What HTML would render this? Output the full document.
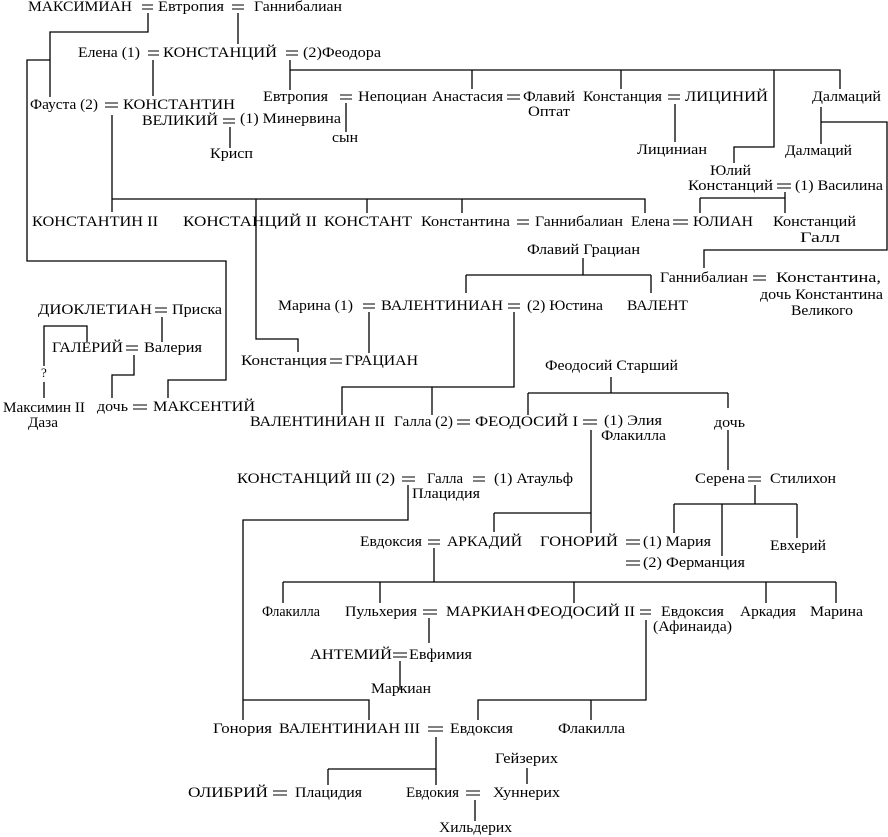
<!DOCTYPE html>
<html><head><meta charset="utf-8"><style>
html,body{margin:0;padding:0;background:#fff;}
svg{display:block;}
text{font-family:"Liberation Serif","DejaVu Serif",serif;font-size:15px;fill:#000;}
</style></head><body>
<svg width="888" height="837" viewBox="0 0 888 837" xmlns="http://www.w3.org/2000/svg">
<rect width="888" height="837" fill="#fff"/>
<g fill="none" stroke="#000" stroke-width="1.3">
<path d="M148 13V32H50V97M50 60H27V261H226V380H168V398M238 13V44M153 60V96M290 60V90M290 70H840V89M472 70V89M621 70V89M774 70V147H734V163M346 103V132M230 127V148M675 104V142M821 107V144M821 122H887V250H704V268"/>
<path d="M112 115V212M112 199H645V213M256 199V339H298V352M367 199V213M462 199V213M785 192V213M700 198H785M700 198V213"/>
<path d="M583 258V275M466 275H651M466 275V293M651 275V293M369 312V353M514 312V387H342V415M432 387V415"/>
<path d="M162 317V342M87 342V326H44V366M44 382V398M134 355V375H112V398"/>
<path d="M611 377V393M528 393H728M528 393V415M728 393V408M728 430V470M591 430V533M494 513H591M494 513V532"/>
<path d="M408 485V520H243V720M243 700H369V720M755 485V504M674 504H797M674 504V533M722 504V556M797 504V538"/>
<path d="M434 548V582M283 582H836M283 582V603M380 582V603M574 582V603M766 582V603M836 582V603"/>
<path d="M429 618V643M400 661V690M646 620V700H478V720M591 700V720M436 737V785M328 769H436M328 769V785M527 768V784M475 800V821"/>
</g>
<g fill="none" stroke="#000" stroke-width="1.1">
<path d="M142 5H153M142 9H153M232 5H244M232 9H244M148 51H159M148 55H159M286 51H298M286 55H298M105 103H118M105 107H118M223 119H235M223 123H235M340 95H352M340 99H352M507 95H520M507 99H520M668 95H680M668 99H680M777 184H791M777 188H791"/>
<path d="M517 220H529M517 224H529M673 220H688M673 224H688M753 276H766M753 280H766M363 304H375M363 308H375M508 304H520M508 308H520M330 359H342M330 363H342M155 308H167M155 312H167M126 346H138M126 350H138M133 405H147M133 409H147"/>
<path d="M457 420H470M457 424H470M583 420H597M583 424H597M402 477H415M402 481H415M473 477H485M473 481H485M428 540H440M428 544H440M626 540H640M626 544H640M626 561H640M626 565H640M748 477H761M748 481H761"/>
<path d="M423 610H437M423 614H437M640 610H651M640 614H651M393 653H407M393 657H407M428 727H443M428 731H443M273 791H287M273 795H287M466 791H480M466 795H480"/>
</g>
<g>
<text x="28" y="11" textLength="104" lengthAdjust="spacingAndGlyphs">МАКСИМИАН</text>
<text x="158" y="11" textLength="66" lengthAdjust="spacingAndGlyphs">Евтропия</text>
<text x="254" y="11" textLength="88" lengthAdjust="spacingAndGlyphs">Ганнибалиан</text>
<text x="78" y="57" textLength="62" lengthAdjust="spacingAndGlyphs">Елена (1)</text>
<text x="163" y="57" textLength="114" lengthAdjust="spacingAndGlyphs">КОНСТАНЦИЙ</text>
<text x="303" y="57" textLength="78" lengthAdjust="spacingAndGlyphs">(2)Феодора</text>
<text x="30" y="109" textLength="68" lengthAdjust="spacingAndGlyphs">Фауста (2)</text>
<text x="123" y="109" textLength="112" lengthAdjust="spacingAndGlyphs">КОНСТАНТИН</text>
<text x="142" y="125" textLength="76" lengthAdjust="spacingAndGlyphs">ВЕЛИКИЙ</text>
<text x="240" y="123" textLength="101" lengthAdjust="spacingAndGlyphs">(1) Минервина</text>
<text x="210" y="158" textLength="43" lengthAdjust="spacingAndGlyphs">Крисп</text>
<text x="263" y="101" textLength="65" lengthAdjust="spacingAndGlyphs">Евтропия</text>
<text x="358" y="101" textLength="69" lengthAdjust="spacingAndGlyphs">Непоциан</text>
<text x="432" y="101" textLength="71" lengthAdjust="spacingAndGlyphs">Анастасия</text>
<text x="523" y="101" textLength="52" lengthAdjust="spacingAndGlyphs">Флавий</text>
<text x="528" y="116" textLength="42" lengthAdjust="spacingAndGlyphs">Оптат</text>
<text x="332" y="142" textLength="26" lengthAdjust="spacingAndGlyphs">сын</text>
<text x="583" y="101" textLength="79" lengthAdjust="spacingAndGlyphs">Констанция</text>
<text x="685" y="101" textLength="83" lengthAdjust="spacingAndGlyphs">ЛИЦИНИЙ</text>
<text x="637" y="154" textLength="70" lengthAdjust="spacingAndGlyphs">Лициниан</text>
<text x="812" y="101" textLength="69" lengthAdjust="spacingAndGlyphs">Далмаций</text>
<text x="785" y="155" textLength="67" lengthAdjust="spacingAndGlyphs">Далмаций</text>
<text x="710" y="175" textLength="41" lengthAdjust="spacingAndGlyphs">Юлий</text>
<text x="688" y="190" textLength="85" lengthAdjust="spacingAndGlyphs">Констанций</text>
<text x="795" y="190" textLength="88" lengthAdjust="spacingAndGlyphs">(1) Василина</text>
<text x="32" y="226" textLength="126" lengthAdjust="spacingAndGlyphs">КОНСТАНТИН II</text>
<text x="183" y="226" textLength="134" lengthAdjust="spacingAndGlyphs">КОНСТАНЦИЙ II</text>
<text x="324" y="226" textLength="88" lengthAdjust="spacingAndGlyphs">КОНСТАНТ</text>
<text x="421" y="226" textLength="89" lengthAdjust="spacingAndGlyphs">Константина</text>
<text x="535" y="226" textLength="88" lengthAdjust="spacingAndGlyphs">Ганнибалиан</text>
<text x="631" y="226" textLength="39" lengthAdjust="spacingAndGlyphs">Елена</text>
<text x="693" y="226" textLength="60" lengthAdjust="spacingAndGlyphs">ЮЛИАН</text>
<text x="773" y="226" textLength="83" lengthAdjust="spacingAndGlyphs">Констанций</text>
<text x="800" y="242" textLength="40" lengthAdjust="spacingAndGlyphs">Галл</text>
<text x="527" y="254" textLength="113" lengthAdjust="spacingAndGlyphs">Флавий Грациан</text>
<text x="660" y="282" textLength="88" lengthAdjust="spacingAndGlyphs">Ганнибалиан</text>
<text x="776" y="282" textLength="105" lengthAdjust="spacingAndGlyphs">Константина,</text>
<text x="760" y="299" textLength="123" lengthAdjust="spacingAndGlyphs">дочь Константина</text>
<text x="791" y="315" textLength="62" lengthAdjust="spacingAndGlyphs">Великого</text>
<text x="278" y="310" textLength="75" lengthAdjust="spacingAndGlyphs">Марина (1)</text>
<text x="381" y="310" textLength="122" lengthAdjust="spacingAndGlyphs">ВАЛЕНТИНИАН</text>
<text x="527" y="310" textLength="76" lengthAdjust="spacingAndGlyphs">(2) Юстина</text>
<text x="627" y="310" textLength="61" lengthAdjust="spacingAndGlyphs">ВАЛЕНТ</text>
<text x="38" y="314" textLength="114" lengthAdjust="spacingAndGlyphs">ДИОКЛЕТИАН</text>
<text x="172" y="314" textLength="50" lengthAdjust="spacingAndGlyphs">Приска</text>
<text x="52" y="352" textLength="71" lengthAdjust="spacingAndGlyphs">ГАЛЕРИЙ</text>
<text x="144" y="352" textLength="58" lengthAdjust="spacingAndGlyphs">Валерия</text>
<text x="41" y="377" style="font-size:13px">?</text>
<text x="241" y="365" textLength="86" lengthAdjust="spacingAndGlyphs">Констанция</text>
<text x="345" y="365" textLength="73" lengthAdjust="spacingAndGlyphs">ГРАЦИАН</text>
<text x="545" y="370" textLength="133" lengthAdjust="spacingAndGlyphs">Феодосий Старший</text>
<text x="3" y="412" textLength="82" lengthAdjust="spacingAndGlyphs">Максимин II</text>
<text x="28" y="427" textLength="30" lengthAdjust="spacingAndGlyphs">Даза</text>
<text x="97" y="411" textLength="31" lengthAdjust="spacingAndGlyphs">дочь</text>
<text x="153" y="411" textLength="102" lengthAdjust="spacingAndGlyphs">МАКСЕНТИЙ</text>
<text x="250" y="426" textLength="135" lengthAdjust="spacingAndGlyphs">ВАЛЕНТИНИАН II</text>
<text x="394" y="426" textLength="59" lengthAdjust="spacingAndGlyphs">Галла (2)</text>
<text x="475" y="426" textLength="103" lengthAdjust="spacingAndGlyphs">ФЕОДОСИЙ I</text>
<text x="604" y="425" textLength="58" lengthAdjust="spacingAndGlyphs">(1) Элия</text>
<text x="601" y="440" textLength="65" lengthAdjust="spacingAndGlyphs">Флакилла</text>
<text x="714" y="427" textLength="31" lengthAdjust="spacingAndGlyphs">дочь</text>
<text x="237" y="483" textLength="158" lengthAdjust="spacingAndGlyphs">КОНСТАНЦИЙ III (2)</text>
<text x="427" y="483" textLength="36" lengthAdjust="spacingAndGlyphs">Галла</text>
<text x="494" y="483" textLength="79" lengthAdjust="spacingAndGlyphs">(1) Атаульф</text>
<text x="412" y="498" textLength="68" lengthAdjust="spacingAndGlyphs">Плацидия</text>
<text x="695" y="483" textLength="50" lengthAdjust="spacingAndGlyphs">Серена</text>
<text x="770" y="483" textLength="66" lengthAdjust="spacingAndGlyphs">Стилихон</text>
<text x="360" y="546" textLength="62" lengthAdjust="spacingAndGlyphs">Евдоксия</text>
<text x="447" y="546" textLength="75" lengthAdjust="spacingAndGlyphs">АРКАДИЙ</text>
<text x="540" y="546" textLength="78" lengthAdjust="spacingAndGlyphs">ГОНОРИЙ</text>
<text x="643" y="546" textLength="68" lengthAdjust="spacingAndGlyphs">(1) Мария</text>
<text x="643" y="567" textLength="102" lengthAdjust="spacingAndGlyphs">(2) Ферманция</text>
<text x="770" y="550" textLength="56" lengthAdjust="spacingAndGlyphs">Евхерий</text>
<text x="262" y="616" textLength="58" lengthAdjust="spacingAndGlyphs">Флакилла</text>
<text x="345" y="616" textLength="72" lengthAdjust="spacingAndGlyphs">Пульхерия</text>
<text x="446" y="616" textLength="79" lengthAdjust="spacingAndGlyphs">МАРКИАН</text>
<text x="527" y="616" textLength="108" lengthAdjust="spacingAndGlyphs">ФЕОДОСИЙ II</text>
<text x="661" y="616" textLength="63" lengthAdjust="spacingAndGlyphs">Евдоксия</text>
<text x="653" y="631" textLength="79" lengthAdjust="spacingAndGlyphs">(Афинаида)</text>
<text x="740" y="616" textLength="56" lengthAdjust="spacingAndGlyphs">Аркадия</text>
<text x="810" y="616" textLength="53" lengthAdjust="spacingAndGlyphs">Марина</text>
<text x="310" y="659" textLength="82" lengthAdjust="spacingAndGlyphs">АНТЕМИЙ</text>
<text x="409" y="659" textLength="63" lengthAdjust="spacingAndGlyphs">Евфимия</text>
<text x="371" y="693" textLength="60" lengthAdjust="spacingAndGlyphs">Маркиан</text>
<text x="213" y="733" textLength="59" lengthAdjust="spacingAndGlyphs">Гонория</text>
<text x="279" y="733" textLength="141" lengthAdjust="spacingAndGlyphs">ВАЛЕНТИНИАН III</text>
<text x="450" y="733" textLength="63" lengthAdjust="spacingAndGlyphs">Евдоксия</text>
<text x="558" y="733" textLength="67" lengthAdjust="spacingAndGlyphs">Флакилла</text>
<text x="495" y="763" textLength="63" lengthAdjust="spacingAndGlyphs">Гейзерих</text>
<text x="188" y="797" textLength="80" lengthAdjust="spacingAndGlyphs">ОЛИБРИЙ</text>
<text x="295" y="797" textLength="67" lengthAdjust="spacingAndGlyphs">Плацидия</text>
<text x="406" y="797" textLength="53" lengthAdjust="spacingAndGlyphs">Евдокия</text>
<text x="493" y="797" textLength="67" lengthAdjust="spacingAndGlyphs">Хуннерих</text>
<text x="439" y="832" textLength="73" lengthAdjust="spacingAndGlyphs">Хильдерих</text>
</g>
</svg>
</body></html>
